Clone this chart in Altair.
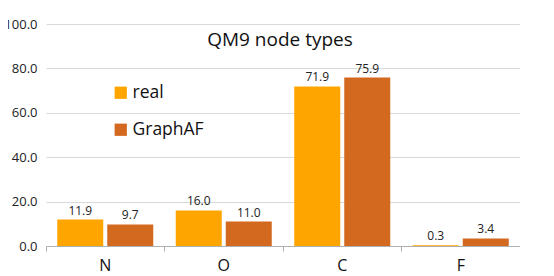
import altair as alt
import pandas as pd

title_text = ["QM9 node types"]
categories = ["N", "O", "C", "F"]
series = ["real", "GraphAF"]
real_vals = [11.9, 16.0, 71.9, 0.3]
graphaf_vals = [9.7, 11.0, 75.9, 3.4]
colors = ["#FFA500", "#D2691E"]

rows = []
for c, r, g in zip(categories, real_vals, graphaf_vals):
    rows.append({"cat": c, "series": "real", "value": r})
    rows.append({"cat": c, "series": "GraphAF", "value": g})
df = pd.DataFrame(rows)

FONT = "Open Sans"

x = alt.X("cat:N", sort=categories, title=None,
          scale=alt.Scale(paddingInner=0, paddingOuter=0),
          axis=alt.Axis(labelAngle=0, labelFontSize=16, labelColor="#111",
                        labelFont=FONT, labelPadding=6,
                        domainColor="#b0b0b0", tickColor="#b0b0b0",
                        tickSize=5, bandPosition=0, grid=False))
xo = alt.XOffset("series:N", sort=series,
                 scale=alt.Scale(paddingInner=0.08, paddingOuter=0.225))
y = alt.Y("value:Q", title=None,
          scale=alt.Scale(domain=[0, 100], nice=False),
          axis=alt.Axis(values=[0, 20, 40, 60, 80, 100], format=".1f",
                        labelFontSize=13, labelColor="#222", labelFont=FONT,
                        labelPadding=9, ticks=False, domain=False,
                        gridColor="#d9d9d9", gridWidth=1))

base = alt.Chart(df).encode(x=x, xOffset=xo, y=y)

bars = base.mark_bar().encode(
    color=alt.Color("series:N", sort=series,
                    scale=alt.Scale(domain=series, range=colors),
                    legend=alt.Legend(title=None, orient="none", legendX=66, legendY=60,
                                      symbolType="square", symbolSize=150,
                                      symbolStrokeWidth=0, labelFontSize=17.5,
                                      labelFont=FONT, labelColor="#111",
                                      rowPadding=18, labelOffset=3))
)

labels = base.mark_text(dy=-9, fontSize=12, font=FONT, color="#222").encode(
    text=alt.Text("value:Q", format=".1f")
)

title = alt.Chart(pd.DataFrame({"t": title_text})).mark_text(
    fontSize=19, font=FONT, color="#111", align="center", baseline="alphabetic"
).encode(text="t:N", x=alt.value(234), y=alt.value(22))

chart = alt.layer(bars, labels, title).properties(
    width=474, height=222,
    autosize=alt.AutoSizeParams(type="none"),
    padding={"left": 38, "top": 16, "right": 0, "bottom": 30},
).configure_view(stroke=None)

chart.save("out.html", embed_options={"renderer": "svg", "actions": False})
